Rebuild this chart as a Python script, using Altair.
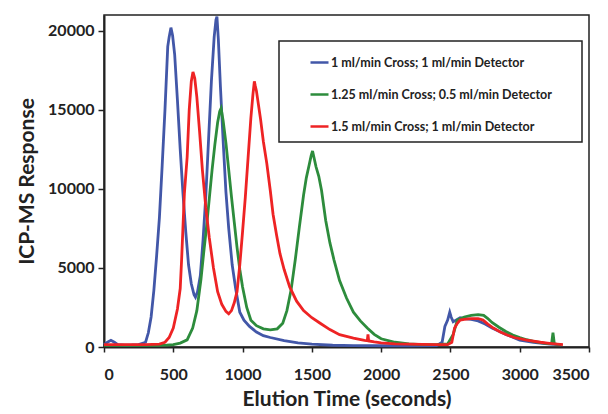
import altair as alt
import pandas as pd

FONT = "Lato"

labels = [
    "1 ml/min Cross; 1 ml/min Detector",
    "1.25 ml/min Cross; 0.5 ml/min Detector",
    "1.5 ml/min Cross; 1 ml/min Detector",
]
colors = ["#4257A8", "#2D8C3C", "#EE2324"]

blue_t = [0, 25, 50, 75, 100, 150, 200, 250, 300, 320, 340, 360, 380, 400, 420, 440, 460, 470, 483,
          495, 510, 530, 550, 570, 590, 610, 630, 650, 660, 675, 695, 715, 735, 755, 775, 795, 808,
          815, 825, 840, 860, 880, 900, 925, 950, 980, 1010, 1050, 1100, 1150, 1200, 1300, 1400,
          1500, 1650, 1800, 2000, 2200, 2400, 2440, 2460, 2480, 2495, 2505, 2520, 2540, 2570, 2600,
          2650, 2700, 2750, 2800, 2850, 2900, 2950, 3000, 3100, 3200, 3300]
blue_v = [150, 300, 420, 300, 150, 120, 130, 150, 300, 900, 1900, 3600, 5800, 8200, 11500, 15000,
          19000, 19600, 20200, 19700, 18500, 15600, 12500, 9700, 7300, 5200, 4000, 3300, 3150, 3500,
          4500, 6800, 9600, 13200, 16800, 19600, 20700, 20900, 19500, 16500, 13000, 9800, 7500, 5200,
          3700, 2200, 1700, 1300, 950, 720, 600, 400, 260, 180, 110, 90, 80, 80, 90, 300, 1300, 1700,
          2200, 1900, 1600, 1700, 1850, 1800, 1750, 1650, 1450, 1200, 1000, 800, 620, 440, 300, 200,
          130]

green_t = [0, 100, 200, 300, 400, 450, 500, 550, 600, 640, 670, 700, 720, 740, 760, 780, 800, 820,
           835, 845, 860, 880, 900, 920, 940, 960, 980, 1000, 1030, 1060, 1100, 1150, 1200, 1250,
           1290, 1320, 1350, 1380, 1410, 1440, 1460, 1480, 1495, 1505, 1515, 1530, 1550, 1570, 1600,
           1630, 1660, 1700, 1750, 1800, 1850, 1900, 1950, 2000, 2100, 2200, 2300, 2400, 2480, 2520,
           2550, 2600, 2650, 2700, 2740, 2770, 2800, 2850, 2900, 2950, 3000, 3050, 3100, 3150, 3200,
           3230, 3240, 3250, 3270, 3300]
green_v = [100, 100, 100, 100, 100, 120, 150, 250, 450, 1200, 2300, 4300, 6000, 7600, 9400, 11200,
           12800, 14200, 14900, 15100, 14300, 12900, 11200, 9500, 7900, 6300, 4900, 3800, 2500, 1700,
           1350, 1150, 1080, 1150, 1500, 2300, 3600, 5500, 7600, 9600, 10700, 11500, 12100, 12400,
           12000, 11400, 10800, 9900, 8000, 6600, 5500, 4200, 3100, 2200, 1650, 1200, 800, 520, 300,
           200, 150, 150, 200, 800, 1700, 1900, 2000, 2050, 2000, 1800, 1550, 1250, 980, 760, 600,
           460, 360, 280, 220, 200, 900, 200, 160, 150]

red_t = [0, 100, 200, 300, 400, 440, 470, 500, 530, 550, 560, 580, 600, 615, 630, 642, 655, 670,
         690, 710, 735, 760, 790, 820, 850, 880, 900, 920, 940, 960, 980, 1000, 1020, 1040, 1060,
         1075, 1085, 1092, 1100, 1115, 1130, 1150, 1175, 1200, 1220, 1245, 1270, 1300, 1340, 1390,
         1440, 1500, 1560, 1630, 1700, 1800, 1880, 1900, 1905, 1910, 1950, 2000, 2100, 2200, 2300,
         2400, 2480, 2510, 2530, 2550, 2570, 2600, 2650, 2700, 2735, 2770, 2810, 2860, 2910, 2960,
         3050, 3150, 3200, 3250, 3312]
red_v = [150, 150, 150, 150, 180, 300, 600, 1200, 2400, 3700, 5500, 9700, 12000, 15000, 16800,
         17400, 17000, 15800, 13600, 11200, 8800, 6900, 5000, 3500, 2700, 2250, 2100, 2300, 2800,
         3500, 5200, 7300, 9500, 12000, 14500, 16000, 16800, 16500, 16200, 15300, 14400, 13000,
         11600, 9900, 8400, 7100, 5900, 4900, 3800, 2900, 2300, 1850, 1500, 1100, 780, 560, 420, 400,
         800, 380, 320, 260, 200, 180, 160, 150, 150, 300, 1200, 1500, 1700, 1750, 1800, 1800, 1700,
         1450, 1200, 950, 760, 600, 430, 300, 250, 200, 150]

x_ticks = [0, 500, 1000, 1500, 2000, 2500, 3000, 3500]
y_ticks = [0, 5000, 10000, 15000, 20000]

rows = []
for lab, ts, vs in [(labels[0], blue_t, blue_v), (labels[1], green_t, green_v), (labels[2], red_t, red_v)]:
    for i, (t, v) in enumerate(zip(ts, vs)):
        rows.append({"series": lab, "t": t, "v": v, "i": i})
df = pd.DataFrame(rows)

lines = alt.Chart(df).mark_line(strokeWidth=2.8).encode(
    x=alt.X("t:Q", scale=alt.Scale(domain=[0, 3500], nice=False),
            axis=alt.Axis(values=x_ticks, format="d", title="Elution Time (seconds)", grid=False,
                          tickSize=5, labelPadding=14, titlePadding=6)),
    y=alt.Y("v:Q", scale=alt.Scale(domain=[0, 21000], nice=False),
            axis=alt.Axis(values=y_ticks, format="d", title="ICP-MS Response", grid=False,
                          tickSize=6, labelPadding=4, titlePadding=10)),
    color=alt.Color("series:N", scale=alt.Scale(domain=labels, range=colors),
                    legend=alt.Legend(title=None, orient="none", legendX=205, legendY=37,
                                      symbolType="stroke", symbolStrokeWidth=2.5, symbolSize=324,
                                      labelFont=FONT, labelFontWeight="bold", labelFontSize=12.5,
                                      labelColor="#222", labelOffset=1, rowPadding=15,
                                      labelLimit=400)),
    order="i:Q",
)

box = alt.Chart(alt.Data(values=[{}])).mark_rect(fill="white", fillOpacity=0, stroke="#222",
                                                  strokeWidth=1.5).encode(
    x=alt.value(175), x2=alt.value(478), y=alt.value(26), y2=alt.value(127)
)

chart = alt.layer(lines, box).properties(
    width=485, height=332,
    padding={"left": 96, "top": 7, "right": 11, "bottom": 67},
    autosize=alt.AutoSizeParams(type="none"),
).configure_view(stroke="#222", strokeWidth=1.5).configure_axis(
    domainColor="#222", domainWidth=2, tickColor="#222", tickWidth=1.5,
    labelFont=FONT, labelFontWeight="bold", labelFontSize=16, labelColor="#222",
    titleFont=FONT, titleFontWeight="bold", titleFontSize=21, titleColor="#222",
)

chart.save("out.html", embed_options={"renderer": "svg", "actions": False})
